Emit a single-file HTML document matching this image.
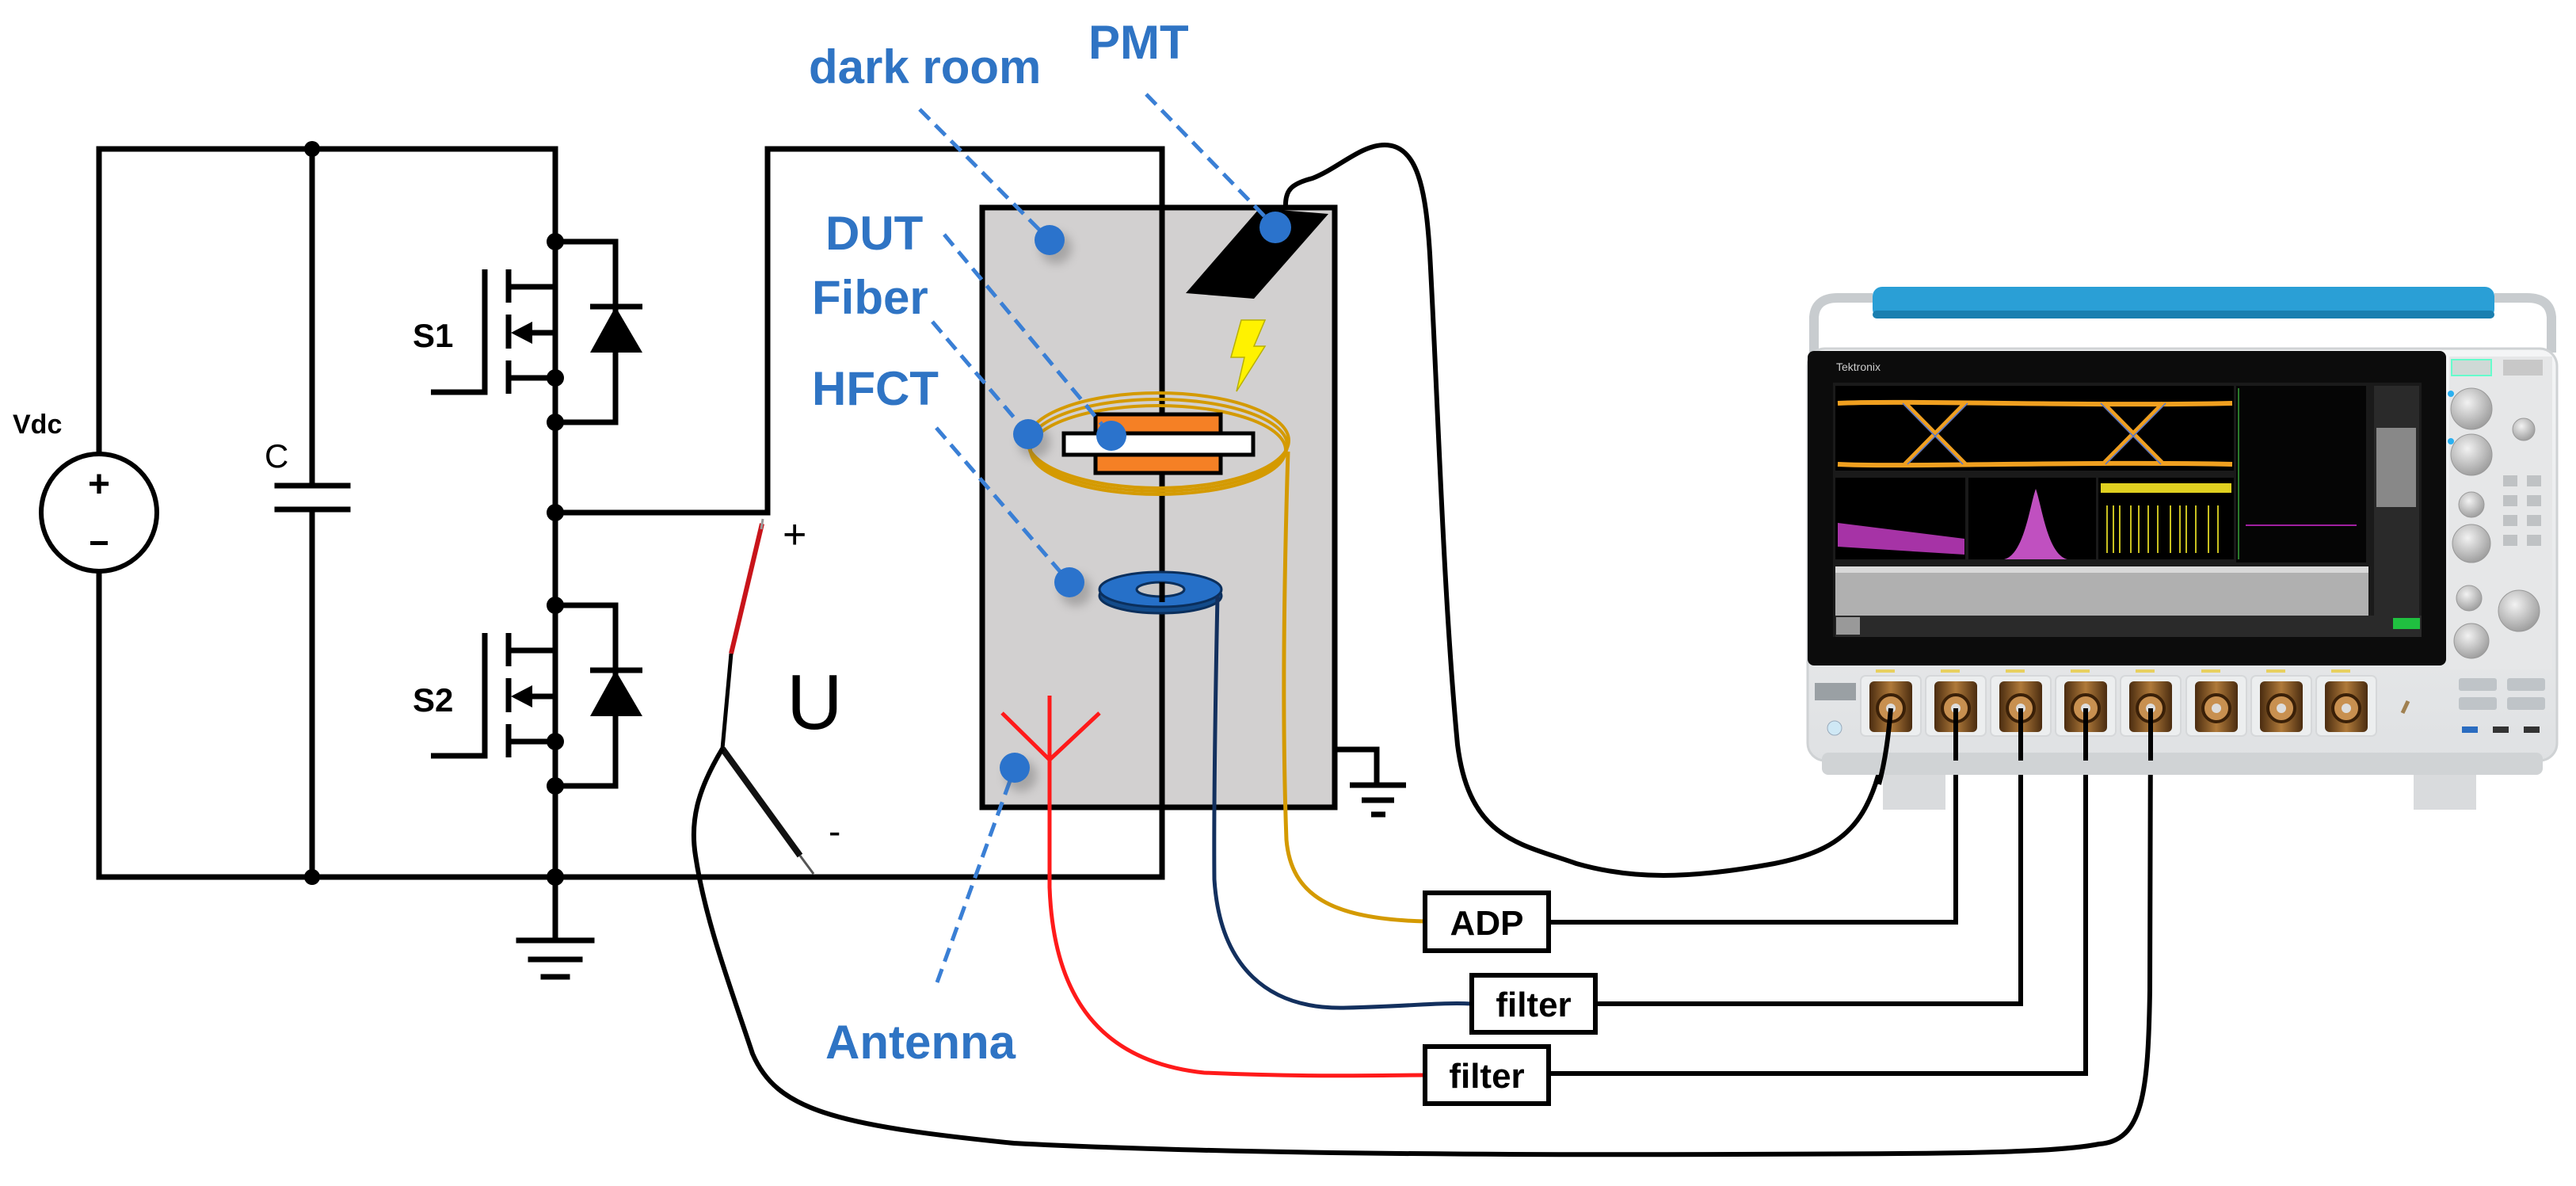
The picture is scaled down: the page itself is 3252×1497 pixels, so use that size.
<!DOCTYPE html>
<html><head><meta charset="utf-8"><style>
html,body{margin:0;padding:0;background:#fff;}
svg{display:block;}
.lbl{font-family:"Liberation Sans",sans-serif;font-weight:bold;fill:#2f74c4;font-size:60px;}
</style></head><body>
<svg width="3252" height="1497" viewBox="0 0 3252 1497" xmlns="http://www.w3.org/2000/svg">
<defs>
<filter id="sh" x="-50%" y="-50%" width="200%" height="200%"><feGaussianBlur stdDeviation="6"/></filter>
<radialGradient id="knob" cx="40%" cy="35%" r="70%"><stop offset="0" stop-color="#f2f2f2"/><stop offset="1" stop-color="#9a9a9a"/></radialGradient>
<linearGradient id="body" x1="0" y1="0" x2="0" y2="1"><stop offset="0" stop-color="#f4f5f6"/><stop offset="1" stop-color="#dfe1e3"/></linearGradient>
<linearGradient id="conn" x1="0" y1="0" x2="1" y2="0"><stop offset="0" stop-color="#4a2c10"/><stop offset=".5" stop-color="#b07a3a"/><stop offset="1" stop-color="#4a2c10"/></linearGradient>
</defs>

<!-- ===== Circuit ===== -->
<g stroke="#000" stroke-width="7" fill="none" stroke-linecap="square">
  <polyline points="125,572 125,188 701,188"/>
  <polyline points="125,722 125,1107 1467,1107"/>
  <line x1="394" y1="188" x2="394" y2="613"/>
  <line x1="394" y1="643" x2="394" y2="1107"/>
  <line x1="350" y1="613" x2="439" y2="613"/>
  <line x1="350" y1="643" x2="439" y2="643"/>
  <ellipse cx="125" cy="647" rx="73" ry="74" stroke-width="6"/>
  <line x1="701" y1="188" x2="701" y2="1187"/>
  <polyline points="701,647 969,647 969,188 1467,188 1467,1107"/>
  <line x1="655" y1="1187" x2="747" y2="1187"/>
  <line x1="670" y1="1211" x2="732" y2="1211"/>
  <line x1="686" y1="1233" x2="716" y2="1233"/>
</g>
<g fill="#000"><circle cx="394" cy="188" r="10"/><circle cx="394" cy="1107" r="10"/><circle cx="701" cy="1107" r="11"/><circle cx="701" cy="647" r="11"/></g>
<g font-family="Liberation Sans,sans-serif" font-weight="bold" fill="#000">
<text x="125" y="627" font-size="48" text-anchor="middle">+</text>
<rect x="114" y="683" width="22" height="5"/>
<text x="16" y="547" font-size="34">Vdc</text>
<text x="334" y="590" font-size="42" font-weight="normal">C</text>
<text x="521" y="438" font-size="42">S1</text>
<text x="521" y="898" font-size="42">S2</text>
</g>

<!-- MOSFETs -->
<g id="mos">
<g stroke="#000" stroke-width="7" fill="none">
  <polyline points="544,495 612,495 612,340"/>
  <line x1="642" y1="340" x2="642" y2="382"/>
  <line x1="642" y1="397" x2="642" y2="440"/>
  <line x1="642" y1="455" x2="642" y2="497"/>
  <polyline points="642,362 701,362"/>
  <polyline points="660,420 701,420 701,477"/>
  <line x1="642" y1="477" x2="701" y2="477"/>
  <polyline points="701,305 777,305 777,533 701,533"/>
  <line x1="745" y1="387" x2="811" y2="387"/>
</g>
<polygon points="777,387 745,445 811,445" fill="#000"/>
<polygon points="645,420 672,406 672,434" fill="#000"/>
<circle cx="701" cy="305" r="11"/><circle cx="701" cy="477" r="11"/><circle cx="701" cy="533" r="11"/>
</g>
<use href="#mos" transform="translate(0,459)"/>

<!-- Dark room -->
<rect x="1240" y="262" width="445" height="757" fill="#d2d0d0" stroke="#000" stroke-width="7"/>
<line x1="1467" y1="262" x2="1467" y2="1019" stroke="#000" stroke-width="7"/>
<g stroke="#000" stroke-width="7" fill="none">
<polyline points="1685,946 1738,946 1738,991"/>
<line x1="1704" y1="991" x2="1775" y2="991"/><line x1="1719" y1="1010" x2="1760" y2="1010"/><line x1="1731" y1="1028" x2="1749" y2="1028"/>
</g>

<!-- PMT -->
<polygon points="1590,263 1677,270 1583,377 1497,370" fill="#000"/>
<path d="M1623,262 C1622,240 1630,232 1657,225 C1690,212 1718,183 1748,183 C1790,183 1800,240 1805,320 C1815,500 1822,750 1840,940 C1855,1060 1920,1065 1990,1090 C2060,1110 2130,1110 2240,1090 C2340,1070 2370,1030 2387,894" fill="none" stroke="#000" stroke-width="6"/>
<polygon points="1567,404 1597,404 1583,437 1597,437 1561,494 1571,451 1554,451" fill="#fff200" stroke="#b8b000" stroke-width="1.5"/>

<!-- Fiber coil -->
<g fill="none" stroke="#d49a00" stroke-width="4">
<ellipse cx="1462" cy="556" rx="165" ry="60"/>
<ellipse cx="1462" cy="562" rx="163" ry="58"/>
<ellipse cx="1462" cy="568" rx="161" ry="56"/>
</g>
<rect x="1383" y="523" width="158" height="24" fill="#f58025" stroke="#000" stroke-width="5"/>
<rect x="1383" y="574" width="158" height="23" fill="#f58025" stroke="#000" stroke-width="5"/>
<rect x="1343" y="547" width="239" height="27" fill="#fff" stroke="#000" stroke-width="5"/>
<line x1="1467" y1="597" x2="1467" y2="610" stroke="#000" stroke-width="7"/>
<path d="M1626,570 C1622,700 1618,900 1624,1060 C1630,1130 1680,1160 1799,1163" fill="none" stroke="#d49a00" stroke-width="5"/>

<!-- HFCT -->
<ellipse cx="1465" cy="752" rx="77" ry="22" fill="#134b8a" stroke="#0b2f5c" stroke-width="3"/>
<ellipse cx="1465" cy="744" rx="77" ry="22" fill="#2670c8" stroke="#0b2f5c" stroke-width="3"/>
<ellipse cx="1465" cy="744" rx="30" ry="9" fill="#c9c7c7" stroke="#0b2f5c" stroke-width="3"/>
<line x1="1467" y1="735" x2="1467" y2="760" stroke="#000" stroke-width="7"/>
<path d="M1537,752 C1535,850 1532,1000 1533,1110 C1540,1220 1600,1275 1700,1272 C1780,1270 1820,1265 1858,1267" fill="none" stroke="#13305e" stroke-width="5"/>

<!-- Antenna -->
<g stroke="#ff1a1a" stroke-width="5" fill="none">
<line x1="1325" y1="878" x2="1325" y2="959"/>
<polyline points="1265,900 1325,959 1388,900"/>
<path d="M1325,959 L1325,1120 C1330,1260 1390,1340 1520,1354 C1650,1360 1740,1357 1799,1357"/>
</g>

<!-- Voltage probe -->
<line x1="962" y1="661" x2="923" y2="825" stroke="#c8141a" stroke-width="6"/>
<line x1="963" y1="655" x2="961" y2="668" stroke="#999" stroke-width="3"/>
<path d="M923,825 L912,945" stroke="#000" stroke-width="5" fill="none"/>
<line x1="912" y1="945" x2="1010" y2="1080" stroke="#111" stroke-width="8"/>
<line x1="1010" y1="1080" x2="1027" y2="1103" stroke="#555" stroke-width="3"/>
<path d="M912,945 C885,990 870,1030 878,1080 C890,1160 920,1240 950,1330 C980,1400 1050,1420 1280,1443 C1600,1460 2100,1458 2400,1456 C2560,1455 2620,1450 2650,1444 C2705,1440 2712,1380 2714,1250 L2715,894" fill="none" stroke="#000" stroke-width="6"/>
<g font-family="Liberation Sans,sans-serif" fill="#000">
<text x="988" y="692" font-size="52">+</text>
<text x="993" y="920" font-size="98">U</text>
<text x="1046" y="1065" font-size="46">-</text>
</g>

<!-- label dots & dashed leaders -->
<g stroke="#3a7fd5" stroke-width="5" stroke-dasharray="18,10" fill="none">
<line x1="1161" y1="138" x2="1325" y2="303"/>
<line x1="1447" y1="119" x2="1610" y2="287"/>
<line x1="1192" y1="296" x2="1403" y2="550"/>
<line x1="1177" y1="406" x2="1298" y2="548"/>
<line x1="1182" y1="540" x2="1350" y2="735"/>
<line x1="1183" y1="1240" x2="1281" y2="969"/>
</g>
<g fill="#555" opacity=".35" filter="url(#sh)">
<circle cx="1333" cy="313" r="20"/><circle cx="1306" cy="558" r="20"/><circle cx="1358" cy="745" r="20"/><circle cx="1289" cy="979" r="20"/>
</g>
<g fill="#2b73cc">
<circle cx="1325" cy="303" r="19"/><circle cx="1610" cy="287" r="20"/><circle cx="1298" cy="548" r="19"/><circle cx="1403" cy="550" r="19"/><circle cx="1350" cy="735" r="19"/><circle cx="1281" cy="969" r="19"/>
</g>
<text class="lbl" x="1021" y="105">dark room</text>
<text class="lbl" x="1374" y="74">PMT</text>
<text class="lbl" x="1042" y="315">DUT</text>
<text class="lbl" x="1025" y="396">Fiber</text>
<text class="lbl" x="1025" y="511">HFCT</text>
<text class="lbl" x="1042" y="1336" font-size="64">Antenna</text>

<!-- Boxes -->
<g stroke="#000" stroke-width="6" fill="#fff">
<rect x="1799" y="1127" width="156" height="73"/>
<rect x="1858" y="1231" width="156" height="72"/>
<rect x="1799" y="1321" width="156" height="72"/>
</g>
<g font-family="Liberation Sans,sans-serif" font-weight="bold" font-size="44" fill="#000" text-anchor="middle">
<text x="1877" y="1180">ADP</text>
<text x="1936" y="1283">filter</text>
<text x="1877" y="1373">filter</text>
</g>
<g stroke="#000" stroke-width="6" fill="none">
<polyline points="1955,1164 2469,1164 2469,894"/>
<polyline points="2014,1267 2551,1267 2551,894"/>
<polyline points="1955,1355 2633,1355 2633,894"/>
</g>

<!-- ===== Oscilloscope ===== -->
<g>
<path d="M2290,445 L2290,400 Q2292,376 2320,376 L2364,376" fill="none" stroke="#c8cccf" stroke-width="12"/>
<path d="M3221,445 L3221,400 Q3219,376 3190,376 L3149,376" fill="none" stroke="#c8cccf" stroke-width="12"/>
<rect x="2364" y="362" width="785" height="40" rx="12" fill="#2a9fd6"/>
<rect x="2364" y="392" width="785" height="10" rx="5" fill="#1a7fb0"/>
<rect x="2377" y="950" width="79" height="72" fill="#d9dbdd"/>
<rect x="3047" y="950" width="79" height="72" fill="#d9dbdd"/>
<rect x="2282" y="440" width="946" height="520" rx="22" fill="url(#body)" stroke="#cfd2d4" stroke-width="3"/>
<rect x="2300" y="950" width="910" height="28" rx="8" fill="#d0d3d5"/>
<rect x="2282" y="443" width="806" height="397" rx="8" fill="#0c0c0c"/>
<rect x="2314" y="483" width="743" height="321" fill="#1a1a1a"/>
<text x="2318" y="468" font-family="Liberation Sans,sans-serif" font-size="14" fill="#ccc">Tektronix</text>
<rect x="2317" y="487" width="503" height="107" fill="#000"/>
<g fill="none" stroke="#f0a020" stroke-width="6">
<path d="M2320,509 C2400,505 2640,513 2818,509"/>
<path d="M2320,586 C2400,590 2640,582 2818,586"/>
<path d="M2405,509 L2481,586 M2405,586 L2481,509 M2655,509 L2731,586 M2655,586 L2731,509"/>
</g>
<g fill="none" stroke="#2a6cff" stroke-width="1.5" opacity=".8">
<path d="M2402,509 L2478,586 M2408,586 L2484,509 M2652,509 L2728,586 M2658,586 L2734,509"/>
</g>
<rect x="2823" y="487" width="164" height="223" fill="#050505"/>
<line x1="2826" y1="490" x2="2826" y2="706" stroke="#2a7a2a" stroke-width="2"/>
<line x1="2835" y1="663" x2="2975" y2="663" stroke="#a020a0" stroke-width="2"/>
<rect x="2997" y="487" width="57" height="290" fill="#2a2a2a"/>
<rect x="3000" y="540" width="50" height="100" fill="#888"/>
<rect x="2317" y="603" width="164" height="103" fill="#000"/>
<path d="M2320,660 L2480,680 L2480,700 L2320,690 Z" fill="#d040d0" opacity=".8"/>
<rect x="2485" y="603" width="161" height="103" fill="#000"/>
<path d="M2530,706 C2555,700 2562,640 2570,617 C2578,640 2585,700 2610,706 Z" fill="#c050c0"/>
<rect x="2649" y="603" width="171" height="103" fill="#000"/>
<rect x="2652" y="610" width="165" height="12" fill="#e0d020"/>
<g stroke="#c8c020" stroke-width="2">
<path d="M2660,638 v60 M2668,638 v60 M2676,638 v60 M2690,638 v60 M2700,638 v60 M2712,638 v60 M2724,638 v60 M2740,638 v60 M2752,638 v60 M2760,638 v60 M2772,638 v60 M2788,638 v60 M2800,638 v60"/>
</g>
<rect x="2317" y="715" width="673" height="62" fill="#b0b0b0"/>
<rect x="2317" y="715" width="673" height="8" fill="#d8d8d8"/>
<rect x="2317" y="777" width="740" height="27" fill="#2a2a2a"/>
<rect x="2318" y="779" width="30" height="22" fill="#999"/>
<rect x="3021" y="780" width="34" height="14" fill="#20c040"/>
<rect x="3092" y="450" width="130" height="395" fill="#e6e7e8"/>
<rect x="3095" y="454" width="50" height="20" fill="#cfd9d6" stroke="#6fc" stroke-width="2"/>
<rect x="3160" y="454" width="50" height="20" fill="#c8c8c8"/>
<g fill="url(#knob)" stroke="#999" stroke-width="1">
<circle cx="3120" cy="516" r="26"/><circle cx="3120" cy="574" r="26"/><circle cx="3186" cy="542" r="14"/>
<circle cx="3120" cy="637" r="16"/><circle cx="3120" cy="686" r="24"/><circle cx="3117" cy="755" r="16"/>
<circle cx="3180" cy="771" r="26"/><circle cx="3120" cy="809" r="22"/>
</g>
<circle cx="3094" cy="497" r="4" fill="#2ab0f0"/><circle cx="3094" cy="557" r="4" fill="#2ab0f0"/>
<g fill="#bfc2c4"><rect x="3160" y="600" width="18" height="14"/><rect x="3190" y="600" width="18" height="14"/><rect x="3160" y="625" width="18" height="14"/><rect x="3190" y="625" width="18" height="14"/><rect x="3160" y="650" width="18" height="14"/><rect x="3190" y="650" width="18" height="14"/><rect x="3160" y="675" width="18" height="14"/><rect x="3190" y="675" width="18" height="14"/></g>
<rect x="3104" y="856" width="48" height="16" rx="3" fill="#bfc4c8"/><rect x="3165" y="856" width="48" height="16" rx="3" fill="#bfc4c8"/>
<rect x="3104" y="880" width="48" height="16" rx="3" fill="#bfc4c8"/><rect x="3165" y="880" width="48" height="16" rx="3" fill="#bfc4c8"/>
<rect x="3108" y="917" width="20" height="8" fill="#2a6cc0"/><rect x="3147" y="917" width="20" height="8" fill="#333"/><rect x="3186" y="917" width="20" height="8" fill="#333"/>
<rect x="2291" y="862" width="52" height="22" fill="#9aa0a4"/>
<circle cx="2316" cy="919" r="9" fill="#cfe8f5" stroke="#9ab" stroke-width="1"/>
<g id="cn">
<rect x="2349" y="853" width="76" height="76" rx="6" fill="#eceeef" stroke="#d6d8da" stroke-width="2"/>
<rect x="2360" y="860" width="54" height="64" rx="6" fill="url(#conn)"/>
<circle cx="2387" cy="894" r="17" fill="#c89050" stroke="#3a2008" stroke-width="4"/>
<circle cx="2387" cy="894" r="6" fill="#ddd"/>
<rect x="2368" y="845" width="24" height="4" fill="#e8d060"/>
</g>
<use href="#cn" transform="translate(82,0)"/>
<use href="#cn" transform="translate(164,0)"/>
<use href="#cn" transform="translate(246,0)"/>
<use href="#cn" transform="translate(328,0)"/>
<use href="#cn" transform="translate(411,0)"/>
<use href="#cn" transform="translate(493,0)"/>
<use href="#cn" transform="translate(575,0)"/>
<line x1="3033" y1="900" x2="3040" y2="885" stroke="#a08050" stroke-width="5"/>
</g>
<g stroke="#000" stroke-width="6" fill="none">
<line x1="2469" y1="894" x2="2469" y2="960"/>
<line x1="2551" y1="894" x2="2551" y2="960"/>
<line x1="2633" y1="894" x2="2633" y2="960"/>
<line x1="2715" y1="894" x2="2715" y2="960"/>
<path d="M2387,894 C2384,930 2380,960 2372,990"/>
</g>
</svg>
</body></html>
